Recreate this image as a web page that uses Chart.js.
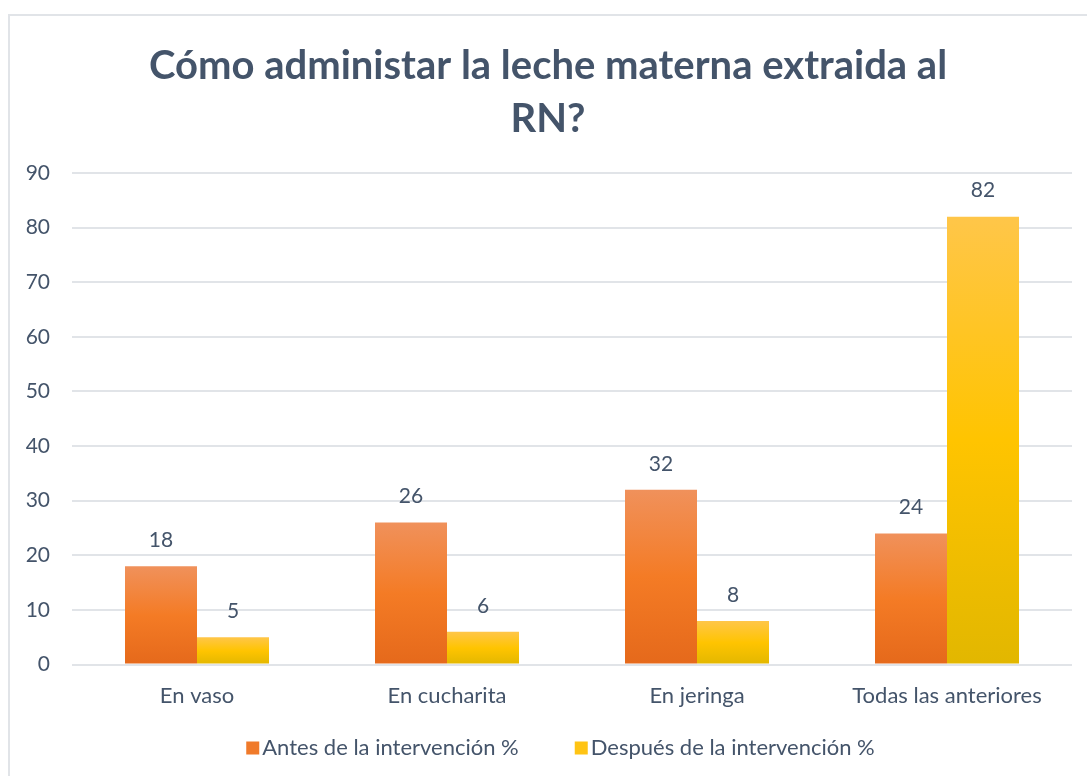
<!DOCTYPE html>
<html>
<head>
<meta charset="utf-8">
<script src="https://cdn.jsdelivr.net/npm/chart.js@4.4.1/dist/chart.umd.min.js"></script>
<style>
    html, body { margin: 0; padding: 0; background: #fff; }
    #frame {
        position: absolute; left: 8px; top: 14px;
        width: 1200px; height: 900px;
        border-left: 2px solid #e1e4e8; border-top: 2px solid #e1e4e8;
    }
    #wrap { position: absolute; left: 0; top: 0; width: 1087px; height: 776px; }
</style>
</head>
<body>
<div id="frame"></div>
<div id="wrap"><canvas id="chart" width="1087" height="776"></canvas></div>
<script>
const categories = ['En vaso', 'En cucharita', 'En jeringa', 'Todas las anteriores'];
const antes = [18, 26, 32, 24];
const despues = [5, 6, 8, 82];
const seriesNames = ['Antes de la intervención %', 'Después de la intervención %'];
const yTicks = [0, 10, 20, 30, 40, 50, 60, 70, 80, 90];

const textColor = '#44546A';
const fontFamily = 'Lato, "Open Sans", sans-serif';

// vertical gradient for each bar, from its top down to the baseline
function barGradient(stops) {
    return function(context) {
        const chart = context.chart;
        const y = chart.scales.y;
        if (!y || context.type !== 'data') return stops[1];
        const top = y.getPixelForValue(context.raw);
        const base = y.getPixelForValue(0);
        if (!isFinite(top) || !isFinite(base) || top === base) return stops[1];
        const g = chart.ctx.createLinearGradient(0, top, 0, base);
        g.addColorStop(0, stops[0]);
        g.addColorStop(0.5, stops[1]);
        g.addColorStop(1, stops[2]);
        return g;
    };
}

// numbers written above the bars
const valueLabels = {
    id: 'valueLabels',
    afterDatasetsDraw(chart) {
        const ctx = chart.ctx;
        ctx.save();
        ctx.fillStyle = textColor;
        ctx.font = '21px ' + fontFamily;
        ctx.textAlign = 'center';
        ctx.textBaseline = 'middle';
        chart.data.datasets.forEach((ds, i) => {
            chart.getDatasetMeta(i).data.forEach((bar, j) => {
                ctx.fillText(ds.data[j], bar.x, bar.y - 26);
            });
        });
        ctx.restore();
    }
};

// legend row under the axis: small square + name, tight spacing
const bottomLegend = {
    id: 'bottomLegend',
    afterDraw(chart) {
        const ctx = chart.ctx;
        const box = 13, gap = 3, itemGap = 56;
        ctx.save();
        ctx.font = '22px ' + fontFamily;
        ctx.textBaseline = 'middle';
        const items = chart.data.datasets.map(ds => ({
            text: ds.label, color: ds.legendColor, w: ctx.measureText(ds.label).width
        }));
        const total = items.reduce((s, it) => s + box + gap + it.w, 0) + itemGap * (items.length - 1);
        let x = chart.width / 2 + 17 - total / 2;
        const y = chart.height - 28;
        items.forEach(it => {
            ctx.fillStyle = it.color;
            ctx.fillRect(x, y - box / 2, box, box);
            ctx.fillStyle = textColor;
            ctx.fillText(it.text, x + box + gap, y);
            x += box + gap + it.w + itemGap;
        });
        ctx.restore();
    }
};

const ctx = document.getElementById('chart').getContext('2d');
new Chart(ctx, {
    type: 'bar',
    data: {
        labels: categories,
        datasets: [
            {
                label: seriesNames[0],
                data: antes,
                backgroundColor: barGradient(['#F0915B', '#F47B25', '#E5691B']),
                legendColor: '#F07A2A'
            },
            {
                label: seriesNames[1],
                data: despues,
                backgroundColor: barGradient(['#FFC649', '#FFC400', '#E2B700']),
                legendColor: '#FFC414'
            }
        ]
    },
    options: {
        responsive: false,
        animation: false,
        categoryPercentage: 0.576,
        barPercentage: 1.0,
        layout: { padding: { left: 24, right: 15, top: 0, bottom: 57 } },
        scales: {
            x: {
                grid: { display: false },
                border: { display: false },
                ticks: {
                    color: textColor,
                    font: { size: 22, family: fontFamily },
                    padding: 10
                }
            },
            y: {
                min: 0,
                max: 90,
                afterFit(scale) { scale.width = 48; },
                afterBuildTicks(scale) { scale.ticks = yTicks.map(v => ({ value: v })); },
                grid: { color: '#e1e4e8', lineWidth: 2, drawTicks: false },
                border: { display: false },
                ticks: {
                    color: textColor,
                    font: { size: 21, family: fontFamily },
                    padding: 22
                }
            }
        },
        plugins: {
            title: {
                display: true,
                text: ['Cómo administar la leche materna extraida al', 'RN?'],
                color: textColor,
                font: { size: 40, weight: 'bold', family: fontFamily, lineHeight: 1.325 },
                padding: { top: 40, bottom: 27 }
            },
            legend: { display: false },
            tooltip: { enabled: false }
        }
    },
    plugins: [valueLabels, bottomLegend]
});
</script>
</body>
</html>
